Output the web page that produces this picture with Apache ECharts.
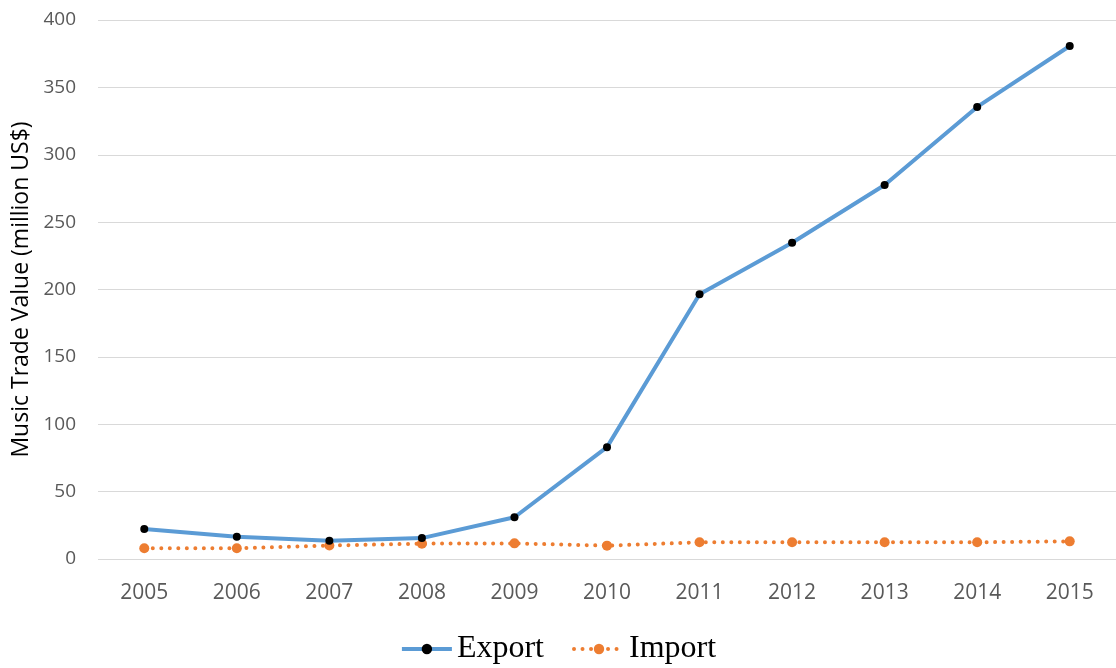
<!DOCTYPE html>
<html>
<head>
<meta charset="utf-8">
<script src="https://cdn.jsdelivr.net/npm/echarts@6/dist/echarts.min.js"></script>
<style>
  html, body { margin: 0; padding: 0; background: #fff; }
  #chart { width: 1116px; height: 668px; }
</style>
</head>
<body>
<div id="chart"></div>
<script>
// Music trade values, million US$
const years = ['2005', '2006', '2007', '2008', '2009', '2010', '2011', '2012', '2013', '2014', '2015'];
const exportValues = [22.3, 16.5, 13.5, 15.5, 31, 83, 196.5, 234.7, 277.5, 335.5, 380.7];
const importValues = [8, 8, 10, 11.4, 11.6, 9.9, 12.4, 12.4, 12.4, 12.4, 13.1];
const yTicks = { min: 0, max: 400, interval: 50 };

const chart = echarts.init(document.getElementById('chart'));
chart.setOption({
  animation: false,
  grid: { left: 98, right: -2, top: 20, bottom: 109 },
  legend: {
    top: 628,
    left: 'center',
    itemWidth: 50,
    itemHeight: 13,
    itemGap: 28,
    lineStyle: { width: 4 },
    textStyle: { fontFamily: 'Liberation Serif', fontSize: 32, color: '#000' },
    data: ['Export', 'Import']
  },
  xAxis: {
    type: 'category',
    data: years,
    boundaryGap: true,
    axisLine: { show: false },
    axisTick: { show: false },
    axisLabel: { fontFamily: 'Open Sans', fontSize: 21, color: '#595959', margin: 24 }
  },
  yAxis: {
    type: 'value',
    min: yTicks.min,
    max: yTicks.max,
    interval: yTicks.interval,
    name: 'Music Trade Value (million US$)',
    nameLocation: 'middle',
    nameGap: 64,
    nameTextStyle: { fontFamily: 'Open Sans', fontSize: 23, color: '#000' },
    axisLine: { show: false },
    axisTick: { show: false },
    axisLabel: { fontFamily: 'Open Sans', fontSize: 19, color: '#595959', margin: 22 },
    splitLine: { lineStyle: { color: '#d9d9d9', width: 1 } }
  },
  series: [
    {
      name: 'Export',
      type: 'line',
      data: exportValues,
      symbol: 'circle',
      symbolSize: 8,
      lineStyle: { color: '#5B9BD5', width: 4 },
      itemStyle: { color: '#000' },
      z: 3
    },
    {
      name: 'Import',
      type: 'line',
      data: importValues,
      symbol: 'circle',
      symbolSize: 10,
      lineStyle: { color: '#ED7D31', width: 4, type: [0.01, 8.5], cap: 'round' },
      itemStyle: { color: '#ED7D31' },
      z: 2
    }
  ]
});
</script>
</body>
</html>
